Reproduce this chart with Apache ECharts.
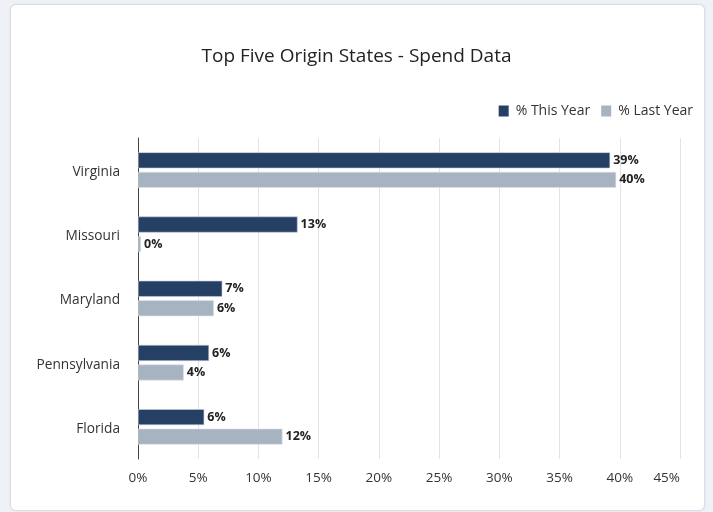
<!DOCTYPE html>
<html>
<head>
<meta charset="utf-8">
<script src="https://cdn.jsdelivr.net/npm/echarts@6/dist/echarts.min.js"></script>
<style>
html,body{margin:0;padding:0;background:#eef1f6;width:713px;height:512px;overflow:hidden;}
#card{position:absolute;left:10px;top:4px;width:693px;height:505px;background:#fff;border:1px solid #d9dde4;border-radius:6px;box-shadow:0 0 2px rgba(0,0,0,0.08);}
#chart{position:absolute;left:0;top:0;width:713px;height:512px;}
</style>
</head>
<body>
<div id="card"></div>
<div id="chart"></div>
<script>
const titleText = 'Top Five Origin States - Spend Data';
const categories = ['Virginia', 'Missouri', 'Maryland', 'Pennsylvania', 'Florida'];
const seriesNames = ['% This Year', '% Last Year'];
const thisYear = [39.2, 13.25, 7.0, 5.9, 5.5];
const lastYear = [39.7, 0.25, 6.3, 3.8, 12.0];
const xMin = 0, xMax = 45, xStep = 5;

const chart = echarts.init(document.getElementById('chart'), null, {renderer: 'canvas'});
const FONT = '"Open Sans", "Noto Sans", sans-serif';
const labelCfg = {
  show: true, position: 'right', distance: 3,
  fontFamily: FONT, fontSize: 12.5, fontWeight: 'bold', color: '#222',
  formatter: p => Math.round(p.value) + '%'
};
chart.setOption({
  backgroundColor: 'transparent',
  animation: false,
  title: {
    text: titleText, left: 'center', top: 42,
    textStyle: {fontFamily: FONT, fontSize: 19, fontWeight: 'normal', color: '#222'}
  },
  legend: {
    right: 15, top: 99, itemWidth: 10, itemHeight: 11, itemGap: 11,
    icon: 'rect',
    itemStyle: {borderWidth: 0},
    textStyle: {fontFamily: FONT, fontSize: 14, color: '#333', padding: [0,0,0,2]},
    data: seriesNames
  },
  grid: {left: 138, right: 33, top: 138, bottom: 53, containLabel: false},
  xAxis: {
    type: 'value', min: xMin, max: xMax, interval: xStep,
    axisLine: {show: false}, axisTick: {show: false},
    splitLine: {show: true, lineStyle: {color: '#e3e3e3', width: 1}},
    axisLabel: {
      fontFamily: FONT, fontSize: 13.5, color: '#333', margin: 12,
      formatter: v => v + '%', alignMaxLabel: 'right'
    }
  },
  yAxis: {
    type: 'category', data: categories, inverse: true,
    axisLine: {show: true, lineStyle: {color: '#444', width: 1}},
    axisTick: {show: false},
    axisLabel: {
      margin: 18,
      formatter: v => '{c|' + v + '}',
      rich: {c: {fontFamily: FONT, fontSize: 13.7, color: '#333', padding: [4, 0, 0, 0]}}
    }
  },
  series: [
    {
      name: seriesNames[0], type: 'bar', data: thisYear, barWidth: 16, barGap: '22%',
      itemStyle: {color: '#263f64', borderColor: '#c8d0db', borderWidth: 0.6},
      label: labelCfg
    },
    {
      name: seriesNames[1], type: 'bar', data: lastYear, barWidth: 16,
      itemStyle: {color: '#a8b3c2', borderColor: '#dfe4ea', borderWidth: 0.6},
      label: labelCfg
    }
  ]
});
</script>
</body>
</html>
